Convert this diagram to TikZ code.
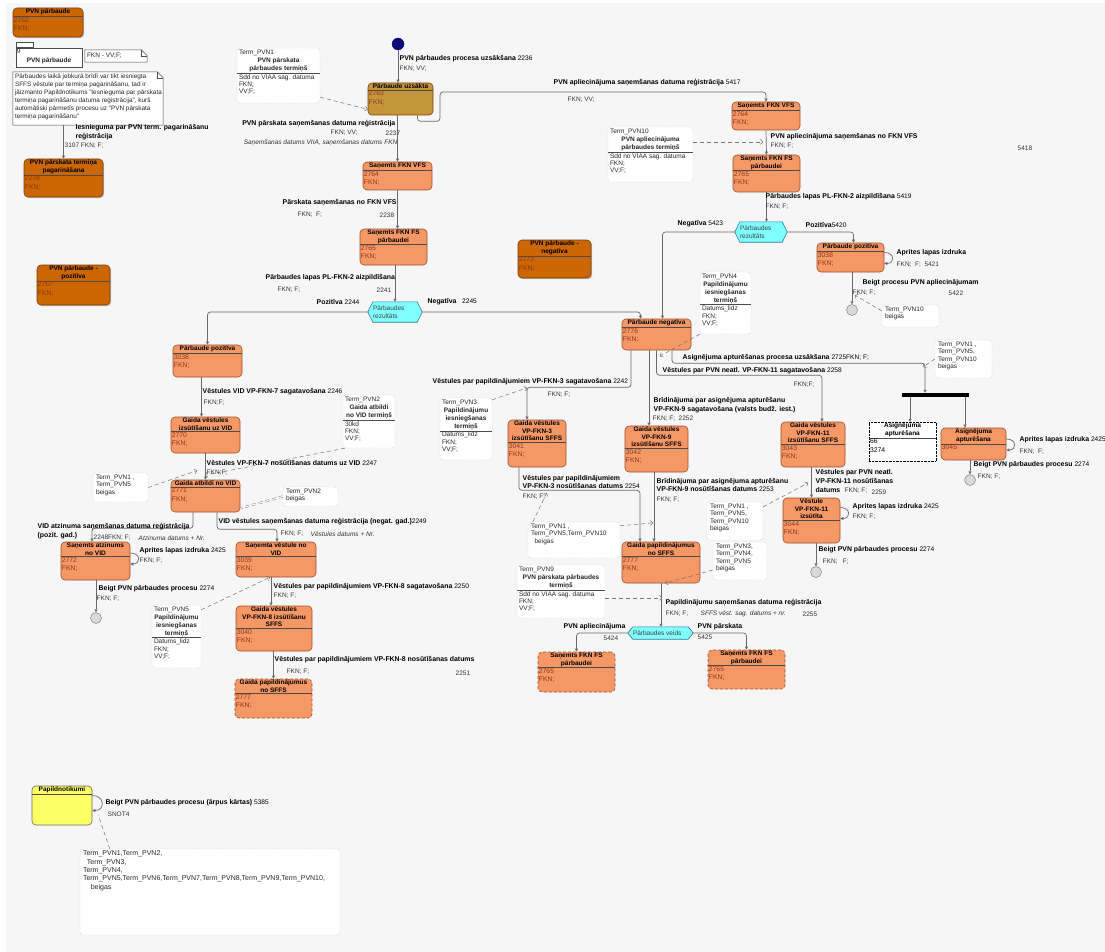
\documentclass[tikz,border=0pt]{standalone}
\usepackage{fontspec}
\setmainfont{Liberation Sans}
\usetikzlibrary{arrows.meta,fit,shadows}

\definecolor{bgray}{RGB}{246,246,246}
\definecolor{dorange}{RGB}{204,102,0}
\definecolor{dborder}{RGB}{120,60,10}
\definecolor{gold}{RGB}{196,150,60}
\definecolor{lorange}{RGB}{246,152,102}
\definecolor{oborder}{RGB}{150,80,45}
\definecolor{hexcyan}{RGB}{128,255,255}
\definecolor{hexborder}{RGB}{40,120,160}
\definecolor{yel}{RGB}{255,255,102}
\definecolor{linegray}{RGB}{105,105,105}
\definecolor{cmtpink}{RGB}{225,150,195}
\definecolor{idred}{RGB}{140,55,25}
\definecolor{navy}{RGB}{10,10,120}

\newcommand\lbfont{\fontsize{6.9}{8.8}\selectfont\bfseries}
\newcommand\smfont{\fontsize{6.5}{7.4}\selectfont}
\newcommand\ttlfont{\fontsize{6.5}{7.6}\selectfont\bfseries}
\newcommand\bdyfont{\fontsize{6.8}{8.4}\selectfont}
\newcommand\nrtxt[1]{{\mdseries\fontsize{6.6}{7.4}\selectfont #1}}

\tikzset{
  base/.style={inner sep=0pt, line width=0.6pt, rounded corners=4pt},
  dnode/.style={base, draw=dborder, fill=dorange,
    drop shadow={shadow xshift=1.2pt, shadow yshift=-1.2pt, fill=black!45}},
  gnode/.style={base, draw=dborder, fill=gold},
  onode/.style={base, draw=oborder, fill=lorange},
  odash/.style={onode, densely dashed},
  ynode/.style={base, draw=black!60, fill=yel},
  wnode/.style={inner sep=0pt, draw=black, densely dotted, fill=white},
  sttitle/.style={font=\ttlfont, align=center, inner sep=1pt},
  stbody/.style={font=\bdyfont, align=left, inner sep=1pt, text=idred},
  sepline/.style={draw=black!70, line width=0.5pt},
  cmt/.style={inner sep=0pt, draw=cmtpink, densely dotted, fill=white, rounded corners=3pt},
  ctxt/.style={font=\smfont, align=left, inner sep=1pt, text=black!85},
  lbl/.style={font=\lbfont, inner sep=0.5pt, anchor=west},
  sml/.style={font=\smfont, inner sep=0.5pt, anchor=west, text=black!80},
  itl/.style={sml, font=\smfont\itshape},
  arr/.style={draw=linegray, line width=0.7pt, rounded corners=3pt,
    -{Triangle[open, length=3pt, width=3pt]}},
  cln/.style={draw=black!55, line width=0.5pt, dash pattern=on 4pt off 3pt,
    -{Straight Barb[length=2.5pt]}},
  endc/.style={circle, draw=black!55, fill=black!15, minimum size=11pt, inner sep=0pt},
  startc/.style={circle, draw=navy, fill=navy, minimum size=12pt, inner sep=0pt}
}

% state box: style, name, corner, corner, title, body
\newcommand\stnode[6]{%
  \node[#1, fit={#3 #4}] (#2) {};
  \node[sttitle, anchor=north] (#2t) at (#2.north) {#5};
  \draw[sepline] (#2.west |- #2t.south) -- (#2.east |- #2t.south);
  \node[stbody, anchor=north west] (#2b) at (#2.west |- #2t.south) {#6};
}
% term comment: name, corner, corner, head, bold part, body
\newcommand\termbox[6]{%
  \node[cmt, fit={#2 #3}] (#1) {};
  \node[ctxt, anchor=north west] (#1h) at ([xshift=1pt,yshift=-1pt]#1.north west) {#4};
  \node[ctxt, font=\ttlfont, align=center, anchor=north] (#1m) at (#1.north |- #1h.south) {#5};
  \draw[black!70, line width=0.5pt] (#1.west |- #1m.south) -- (#1.east |- #1m.south);
  \node[ctxt, anchor=north west] (#1b) at ([xshift=1pt]#1.west |- #1m.south) {#6};
}
\newcommand\notecmt[4]{%
  \node[cmt, fit={#2 #3}] (#1) {};
  \node[ctxt, anchor=north west] (#1h) at ([xshift=2pt,yshift=-1pt]#1.north west) {#4};
}
% hexagon decision: name, corner, corner, text
\newcommand\hexa[4]{%
  \node[fit={#2 #3}, inner sep=0pt] (#1) {};
  \draw[fill=hexcyan, draw=hexborder, line width=0.6pt] (#1.west) -- ([xshift=5pt]#1.north west)
    -- ([xshift=-5pt]#1.north east) -- (#1.east) -- ([xshift=-5pt]#1.south east)
    -- ([xshift=5pt]#1.south west) -- cycle;
  \node[ctxt, align=left, text=black!75, anchor=west] (#1t) at ([xshift=4pt]#1.west) {#4};
}
% note with folded corner: name, corner, corner
\newcommand\foldnote[3]{%
  \node[fit={#2 #3}, inner sep=0pt] (#1) {};
  \draw[fill=white, draw=black!70, line width=0.5pt] (#1.north west) -- ([xshift=-6pt]#1.north east)
    -- ([yshift=-6pt]#1.north east) -- (#1.south east) -- (#1.south west) -- cycle;
  \draw[black!70, line width=0.5pt] ([xshift=-6pt]#1.north east) -- ([xshift=-6pt,yshift=-6pt]#1.north east)
    -- ([yshift=-6pt]#1.north east);
}

\begin{document}
\begin{tikzpicture}[x=1pt,y=-1pt]
\useasboundingbox (0,0) rectangle (1105,952);
\fill[white] (0,0) rectangle (1105,952);
\fill[bgray] (6,3) rectangle (1105,952);

% left column
\stnode{dnode}{pvnA}{(13,8)}{(83,37)}{PVN pārbaude}{2762\\FKN;}
\node[fit={(16,48) (82,67)}, draw=black!70, fill=white, inner sep=0pt, line width=0.5pt] (pkg) {};
\draw[fill=white, draw=black!70, line width=0.5pt] (pkg.north west) rectangle ++(17,-5);
\node[ctxt, anchor=north west] (pkgn) at (pkg.north west) {9};
\node[ctxt, font=\ttlfont] (pkgt) at ([yshift=-3pt]pkg.center) {PVN pārbaude};
\foldnote{fkn}{(85,50)}{(147,62)}
\node[ctxt, anchor=west] (fknt) at ([xshift=1pt]fkn.west) {FKN - VV;F;};
\foldnote{bnote}{(13,72)}{(163,125)}
\node[ctxt, anchor=north west, font=\fontsize{6.4}{8}\selectfont] (bnotet) at ([xshift=1pt,yshift=-1pt]bnote.north west)
  {Pārbaudes laikā jebkurā brīdī var tikt iesniegta\\SFFS vēstule par termiņa pagarināšanu, tad ir\\jāizmanto Papildnotikums "Iesnieguma par pārskata\\termiņa pagarināšanu datuma reģistrācija", kurš\\automātiski pārmetīs procesu uz  "PVN pārskata\\termiņa pagarināšanu"};
\stnode{dnode}{pvnTerm}{(24,159)}{(103,197)}{PVN pārskata termiņa\\pagarināšana}{2278\\FKN;}
\stnode{dnode}{pvnPoz}{(37,265)}{(110,305)}{PVN pārbaude -\\pozitīva}{2767\\FKN;}
\stnode{dnode}{pvnNeg}{(518,240)}{(591,278)}{PVN pārbaude -\\negatīva}{2773\\FKN;}

% main flow
\node[startc] (start) at (398,44) {};
\stnode{gnode}{uzs}{(368,83)}{(433,115)}{Pārbaude uzsākta}{2763\\FKN;}
\stnode{onode}{vfsL}{(363,162)}{(432,190)}{Saņemts FKN VFS}{2764\\FKN;}
\stnode{onode}{fsL}{(360,229)}{(427,265)}{Saņemts FKN FS\\pārbaudei}{2765\\FKN;}
\stnode{onode}{vfsR}{(732,102)}{(800,130)}{Saņemts FKN VFS}{2764\\FKN;}
\stnode{onode}{fsR}{(733,155)}{(800,192)}{Saņemts FKN FS\\pārbaudei}{2765\\FKN;}
\stnode{onode}{pozR}{(817,243)}{(884,272)}{Pārbaude pozitīva}{3038\\FKN;}
\stnode{onode}{pozL}{(173,345)}{(242,377)}{Pārbaude pozitīva}{3038\\FKN;}
\stnode{onode}{neg}{(622,319)}{(691,350)}{Pārbaude negatīva}{2776\\FKN;}
\stnode{onode}{gvVid}{(171,417)}{(240,453)}{Gaida vēstules\\izsūtīšanu uz VID}{2770\\FKN;}
\stnode{onode}{gaVid}{(171,480)}{(240,512)}{Gaida atbildi no VID}{2771\\FKN;}
\stnode{onode}{satz}{(61,542)}{(130,580)}{Saņemts atzinums\\no VID}{2772\\FKN;}
\stnode{onode}{svest}{(236,542)}{(316,577)}{Saņemta vēstule no\\VID}{3039\\FKN;}
\stnode{onode}{gv8}{(236,606)}{(312,651)}{Gaida vēstules\\VP-FKN-8 izsūtīšanu\\SFFS}{3040\\FKN;}
\stnode{odash}{gp2}{(235,679)}{(312,718)}{Gaida papildinājumus\\no SFFS}{2777\\FKN;}
\stnode{onode}{gv3}{(508,420)}{(566,467)}{Gaida vēstules\\VP-FKN-3\\izsūtīšanu SFFS}{3041\\FKN;}
\stnode{onode}{gv9}{(625,426)}{(688,472)}{Gaida vēstules\\VP-FKN-9\\izsūtīšanu SFFS}{3042\\FKN;}
\stnode{onode}{gv11}{(781,422)}{(845,467)}{Gaida vēstules\\VP-FKN-11\\izsūtīšanu SFFS}{3043\\FKN;}
\stnode{onode}{v11}{(783,498)}{(840,543)}{Vēstule\\VP-FKN-11\\izsūtīta}{3044\\FKN;}
\stnode{onode}{gp}{(622,542)}{(700,583)}{Gaida papildinājumus\\no SFFS}{2777\\FKN;}
\stnode{onode}{apt}{(941,428)}{(1006,460)}{Asignējuma\\apturēšana}{3045}
\stnode{wnode}{aptD}{(869,422)}{(936,461)}{Asignējuma\\apturēšana}{\textcolor{black}{66}\\\textcolor{black}{3274}}
\stnode{odash}{fsL2}{(538,652)}{(615,692)}{Saņemts FKN FS\\pārbaudei}{2765\\FKN;}
\stnode{odash}{fsR2}{(708,650)}{(785,689)}{Saņemts FKN FS\\pārbaudei}{2765\\FKN;}
\stnode{ynode}{papn}{(32,786)}{(92,825)}{Papildnotikumi}{}

\hexa{rezL}{(368,302)}{(422,322)}{Pārbaudes\\rezultāts}
\hexa{rezR}{(735,222)}{(787,242)}{Pārbaudes\\rezultāts}
\hexa{veids}{(628,627)}{(693,639)}{Pārbaudes veids}
\node[fill=black, fit={(902,393) (969,397)}, inner sep=0pt] (bar) {};
\node[endc] (endR) at (852,310) {};
\node[endc] (endA) at (970,480) {};
\node[endc] (endV) at (816,572) {};
\node[endc] (endS) at (96,618) {};

% comments
\termbox{t1}{(237,48)}{(320,103)}{Term\_PVN1}{PVN pārskata\\pārbaudes termiņš}{Sdd no VIAA sag. datuma\\FKN;\\VV;F;}
\termbox{t10}{(608,127)}{(693,182)}{Term\_PVN10}{PVN apliecinājuma\\pārbaudes termiņš}{Sdd no VIAA sag. datuma\\FKN;\\VV;F;}
\termbox{t4}{(700,272)}{(751,334)}{Term\_PVN4}{Papildinājumu\\iesniegšanas\\termiņš}{Datums\_lidz\\FKN;\\VV;F;}
\termbox{t2}{(343,395)}{(395,448)}{Term\_PVN2}{Gaida atbildi\\no VID termiņš}{30kd\\FKN;\\VV;F;}
\termbox{t3}{(440,398)}{(492,460)}{Term\_PVN3}{Papildinājumu\\iesniegšanas\\termiņš}{Datums\_lidz\\FKN;\\VV;F;}
\termbox{t5}{(152,605)}{(201,668)}{Term\_PVN5}{Papildinājumu\\iesniegšanas\\termiņš}{Datums\_lidz\\FKN;\\VV;F;}
\termbox{t9}{(517,565)}{(605,618)}{Term\_PVN9}{PVN pārskata pārbaudes\\termiņš}{Sdd no VIAA sag. datuma\\FKN;\\VV;F;}
\notecmt{t10b}{(882,305)}{(939,327)}{Term\_PVN10\\beigas}
\notecmt{t1510}{(935,340)}{(992,378)}{Term\_PVN1 ,\\Term\_PVN5,\\Term\_PVN10\\beigas}
\notecmt{t15}{(93,473)}{(148,502)}{Term\_PVN1 ,\\Term\_PVN5\\beigas}
\notecmt{t2b}{(283,487)}{(338,506)}{Term\_PVN2\\beigas}
\notecmt{t1510b}{(528,522)}{(620,558)}{Term\_PVN1 ,\\Term\_PVN5,Term\_PVN10\\\ \ beigas}
\notecmt{t1510c}{(707,502)}{(763,540)}{Term\_PVN1 ,\\Term\_PVN5,\\Term\_PVN10\\beigas}
\notecmt{t345}{(713,542)}{(767,580)}{Term\_PVN3,\\Term\_PVN4,\\Term\_PVN5\\beigas}
\node[cmt, fit={(80,849) (340,935)}] (tall) {};
\node[ctxt, anchor=north west, font=\fontsize{7}{8.3}\selectfont] (tallh) at ([xshift=2pt,yshift=-1pt]tall.north west)
  {Term\_PVN1,Term\_PVN2,\\\ \ Term\_PVN3,\\Term\_PVN4,\\Term\_PVN5,Term\_PVN6,Term\_PVN7,Term\_PVN8,Term\_PVN9,Term\_PVN10,\\\ \ \ \ beigas};

% connectors
\draw[arr] (start.south) -- (start.south |- uzs.north);
\draw[arr] ([xshift=17pt]uzs.south) -- ++(0,6) -| (440,92) -| (vfsR.north);
\draw[arr] (vfsL.north |- uzs.south) -- (vfsL.north);
\draw[arr] (vfsL.south) -- (vfsL.south |- fsL.north);
\draw[arr] (rezL.north |- fsL.south) -- (rezL.north);
\draw[arr] (rezL.west) -| (pozL.north);
\draw[arr] (rezL.east) -| ([xshift=-16pt]neg.north);
\draw[arr] (vfsR.south) -- (fsR.north);
\draw[arr] (fsR.south) -- (fsR.south |- rezR.north);
\draw[arr] (rezR.east) -| ([xshift=3pt]pozR.north);
\draw[arr] (rezR.west) -| ([xshift=6pt]neg.north);
\draw[arr] ([yshift=5pt]pozR.east) to[out=0,in=0,looseness=2.5] ([yshift=-6pt]pozR.east);
\draw[arr] (endR.north |- pozR.south) -- (endR.north);
\draw[arr] ([xshift=-25.5pt]neg.south) -- ++(0,37) -| ([xshift=-10pt]gv3.north);
\draw[arr] ([xshift=-7.5pt]neg.south) -- ([xshift=-7.5pt]gv9.north);
\draw[arr] (neg.south) -- ++(0,25) -| ([xshift=9pt]gv11.north);
\draw[arr] ([xshift=15.5pt]neg.south) -- ++(0,13) -| ([xshift=-10.5pt]bar.north);
\draw[arr] ([xshift=7.5pt]aptD.north |- bar.south) -- ([xshift=7.5pt]aptD.north);
\draw[arr] ([xshift=-8.5pt]apt.north |- bar.south) -- ([xshift=-8.5pt]apt.north);
\draw[arr] ([yshift=5pt]apt.east) to[out=0,in=0,looseness=2.5] ([yshift=-6pt]apt.east);
\draw[arr] (endA.north |- apt.south) -- (endA.north);
\draw[arr] (v11.north |- gv11.south) -- (v11.north);
\draw[arr] ([yshift=13pt]v11.east) to[out=0,in=0,looseness=2.5] ([yshift=2pt]v11.east);
\draw[arr] (endV.north |- v11.south) -- (endV.north);
\draw[arr] ([xshift=-18pt]gv3.south) -- ++(0,23) -| ([xshift=-21pt]gp.north);
\draw[arr] ([xshift=-7pt]gp.north |- gv9.south) -- ([xshift=-7pt]gp.north);
\draw[arr] (gp.south) -- (gp.south |- veids.north);
\draw[arr] (veids.west) -| (fsL2.north);
\draw[arr] (veids.east) -| (fsR2.north);
\draw[arr] ([xshift=-4pt]gvVid.north |- pozL.south) -- ([xshift=-4pt]gvVid.north);
\draw[arr] (gaVid.north |- gvVid.south) -- (gaVid.north);
\draw[arr] ([xshift=-12.5pt]gaVid.south) -- ++(0,16) -| ([xshift=-3.5pt]satz.north);
\draw[arr] ([xshift=11.5pt]gaVid.south) -- ++(0,17) -| ([xshift=1pt]svest.north);
\draw[arr] ([yshift=8pt]satz.east) to[out=0,in=0,looseness=2.5] ([yshift=-3pt]satz.east);
\draw[arr] (endS.north |- satz.south) -- (endS.north);
\draw[arr] ([xshift=-3pt]gv8.north |- svest.south) -- ([xshift=-3pt]gv8.north);
\draw[arr] (gp2.north |- gv8.south) -- (gp2.north);
\draw[arr] (pvnTerm.north |- bnote.south) -- (pvnTerm.north);
\draw[arr] ([yshift=10pt]papn.east) to[out=0,in=0,looseness=2.2] ([yshift=-5pt]papn.east);

% comment links
\draw[cln] ([yshift=6pt]t1.south east) -- ([yshift=6pt]uzs.south west);
\draw[cln] ([yshift=-15pt]t10.north east) -- ++(70,0);
\draw[cln] ([yshift=5pt]t10b.west) -- ++(-27,-16);
\draw[cln] (t1510.west) -- ++(-12,8);
\draw[cln] (t4.south west) -- ++(-40,22);
\draw[cln] ([xshift=2pt]t2.south west) -- ++(-140,27);
\draw[cln] (t15.east) -- ++(49,-17);
\draw[draw=black!55, dash pattern=on 4pt off 3pt, double, double distance=1.2pt] (t2b.west) -- ([yshift=4pt]gaVid.south east);
\draw[cln] ([yshift=-2pt]t3.north east) -- ++(35,-12);
\draw[cln] ([yshift=-5pt]t5.north east) -- ([xshift=-6pt]svest.south);
\draw[cln] ([yshift=-4pt]t1510b.north east) -- ++(33,-3);
\draw[cln] ([xshift=5pt]t1510b.north west) -- ++(14,-29);
\draw[cln] ([yshift=-5pt]t1510c.north east) -- ++(45,-24);
\draw[cln] ([yshift=-9pt]t345.west) -- ([xshift=4pt]gp.south);
\draw[cln] ([yshift=-33pt]t9.north east) -- ++(57,0);
\draw[cln, -] ([xshift=30pt]tall.north west) -- ([xshift=6pt,yshift=-10pt]papn.east);

% labels
\node[lbl] (e2236) at (399,59) {PVN pārbaudes procesa uzsākšana \nrtxt{2236}};
\node[sml] (e2236f) at (399,69) {FKN; VV;};
\node[lbl] (e5417) at (553,83) {PVN apliecinājuma saņemšanas datuma reģistrācija \nrtxt{5417}};
\node[sml] (e5417f) at (567,100) {FKN; VV;};
\node[lbl, anchor=east] (e2237) at (396,124) {PVN pārskata saņemšanas datuma reģistrācija};
\node[sml] (e2237f) at (330,133) {FKN; VV;};
\node[sml] (e2237n) at (385,133) {2237};
\node[itl, anchor=east] (e2237i) at (398,143) {Saņemšanas datums VIIA, saņemšanas datums FKN};
\node[lbl] (e2238) at (282,203) {Pārskata saņemšanas no FKN VFS};
\node[sml] (e2238f) at (297,215) {FKN;\ \ F;};
\node[sml] (e2238n) at (379,215) {2238};
\node[lbl] (e2241) at (265,278) {Pārbaudes lapas PL-FKN-2 aizpildīšana};
\node[sml] (e2241f) at (277,290) {FKN; F;};
\node[sml] (e2241n) at (376,290) {2241};
\node[lbl] (e2244) at (316,302) {Pozitīva \nrtxt{2244}};
\node[lbl] (e2245) at (427,302) {Negatīva\ \ \ \nrtxt{2245}};
\node[lbl] (e5418) at (770,137) {PVN apliecinājuma saņemšanas no FKN VFS};
\node[sml] (e5418f) at (770,146) {FKN; F;};
\node[sml] (e5418n) at (1017,148) {5418};
\node[lbl] (e5419) at (765,197) {Pārbaudes lapas PL-FKN-2 aizpildīšana \nrtxt{5419}};
\node[sml] (e5419f) at (765,207) {FKN; F;};
\node[lbl] (e5423) at (677,224) {Negatīva \nrtxt{5423}};
\node[lbl] (e5420) at (805,225) {Pozitīva\nrtxt{5420}};
\node[lbl] (e5421) at (896,253) {Aprites lapas izdruka};
\node[sml] (e5421f) at (896,265) {FKN;\ \ F;\ \ 5421};
\node[lbl] (e5422) at (862,283) {Beigt procesu PVN apliecinājumam};
\node[sml] (e5422f) at (852,293) {FKN; F;};
\node[sml] (e5422n) at (948,293) {5422};
\node[lbl] (e2242) at (432,382) {Vēstules par papildinājumiem VP-FKN-3 sagatavošana \nrtxt{2242}};
\node[sml] (e2242f) at (547,395) {FKN; F;};
\node[lbl] (e2725) at (682,358) {Asignējuma apturēšanas procesa uzsākšana \nrtxt{2725FKN; F;}};
\node[lbl] (e2258) at (662,371) {Vēstules par PVN neatl. VP-FKN-11 sagatavošana \nrtxt{2258}};
\node[sml] (e2258f) at (793,385) {FKN;F;};
\node[lbl, align=left] (e2252) at (653,405) {Brīdinājuma par asignējuma apturēšanu\\VP-FKN-9 sagatavošana (valsts budž. iest.)};
\node[sml] (e2252f) at (652,419) {FKN; F;\ \ 2252};
\node[lbl] (e2246) at (202,392) {Vēstules VID VP-FKN-7 sagatavošana \nrtxt{2246}};
\node[sml] (e2246f) at (203,403) {FKN;F;};
\node[lbl] (e2247) at (206,463) {Vēstules VP-FKN-7 nosūtīšanas datums uz VID \nrtxt{2247}};
\node[sml] (e2247f) at (206,473) {FKN;F;};
\node[lbl, align=left] (e2248) at (37,531) {VID atzinuma saņemšanas datuma reģistrācija\\(pozit. gad.)};
\node[sml] (e2248f) at (93,538) {2248FKN; F;};
\node[itl] (e2248i) at (138,538) {Atzinuma datums + Nr.};
\node[lbl] (e2249) at (218,522) {VID vēstules saņemšanas datuma reģistrācija (negat. gad.)\nrtxt{2249}};
\node[sml] (e2249f) at (280,534) {FKN; F;};
\node[itl] (e2249i) at (310,534) {Vēstules datums + Nr.};
\node[lbl] (e2425a) at (139,551) {Aprites lapas izdruka \nrtxt{2425}};
\node[sml] (e2425af) at (139,561) {FKN; F;};
\node[lbl] (e2274a) at (98,589) {Beigt PVN pārbaudes procesu \nrtxt{2274}};
\node[sml] (e2274af) at (96,599) {FKN; F;};
\node[lbl] (e2250) at (273,587) {Vēstules par papildinājumiem VP-FKN-8 sagatavošana \nrtxt{2250}};
\node[sml] (e2250f) at (273,596) {FKN; F;};
\node[lbl] (e2251) at (274,660) {Vēstules par papildinājumiem VP-FKN-8 nosūtīšanas datums};
\node[sml] (e2251f) at (286,672) {FKN; F;};
\node[sml] (e2251n) at (455,673) {2251};
\node[lbl, align=left] (e2254) at (522,482) {Vēstules par papildinājumiem\\VP-FKN-3 nosūtīšanas datums \nrtxt{2254}};
\node[sml] (e2254f) at (522,497) {FKN; F;};
\node[lbl, align=left] (e2253) at (656,485) {Brīdinājuma par asignējuma apturēšanu\\VP-FKN-9 nosūtīšanas datums \nrtxt{2253}};
\node[sml] (e2253f) at (656,500) {FKN; F;};
\node[lbl, align=left] (e2259) at (815,481) {Vēstules par PVN neatl.\\VP-FKN-11 nosūtīšanas\\datums};
\node[sml] (e2259f) at (844,491) {FKN; F;};
\node[sml] (e2259n) at (871,492) {2259};
\node[lbl] (e2425b) at (852,507) {Aprites lapas izdruka \nrtxt{2425}};
\node[sml] (e2425bf) at (852,517) {FKN; F;};
\node[lbl] (e2274b) at (818,550) {Beigt PVN pārbaudes procesu \nrtxt{2274}};
\node[sml] (e2274bf) at (822,562) {FKN;\ \ \ F;};
\node[lbl] (e2425c) at (1019,440) {Aprites lapas izdruka \nrtxt{2425}};
\node[sml] (e2425cf) at (1019,452) {FKN;\ \ F;};
\node[lbl] (e2274c) at (973,465) {Beigt PVN pārbaudes procesu \nrtxt{2274}};
\node[sml] (e2274cf) at (977,477) {FKN; F;};
\node[lbl] (e2255) at (665,603) {Papildinājumu saņemšanas datuma reģistrācija};
\node[sml] (e2255f) at (665,614) {FKN; F;};
\node[itl] (e2255i) at (700,614) {SFFS vēst. sag. datums + nr.};
\node[sml] (e2255n) at (802,614) {2255};
\node[lbl] (e5424) at (563,627) {PVN apliecinājuma};
\node[sml] (e5424n) at (603,638) {5424};
\node[lbl] (e5425) at (697,627) {PVN pārskata};
\node[sml] (e5425n) at (697,637) {5425};
\node[lbl, align=left] (e3107) at (75,132) {Iesnieguma par PVN term. pagarināšanu\\reģistrācija};
\node[sml] (e3107f) at (64,146) {3107 FKN; F;};
\node[lbl] (e5385) at (105,803) {Beigt PVN pārbaudes procesu (ārpus kārtas) \nrtxt{5385}};
\node[sml] (e5385f) at (107,814) {SNOT4};
\end{tikzpicture}
\end{document}
